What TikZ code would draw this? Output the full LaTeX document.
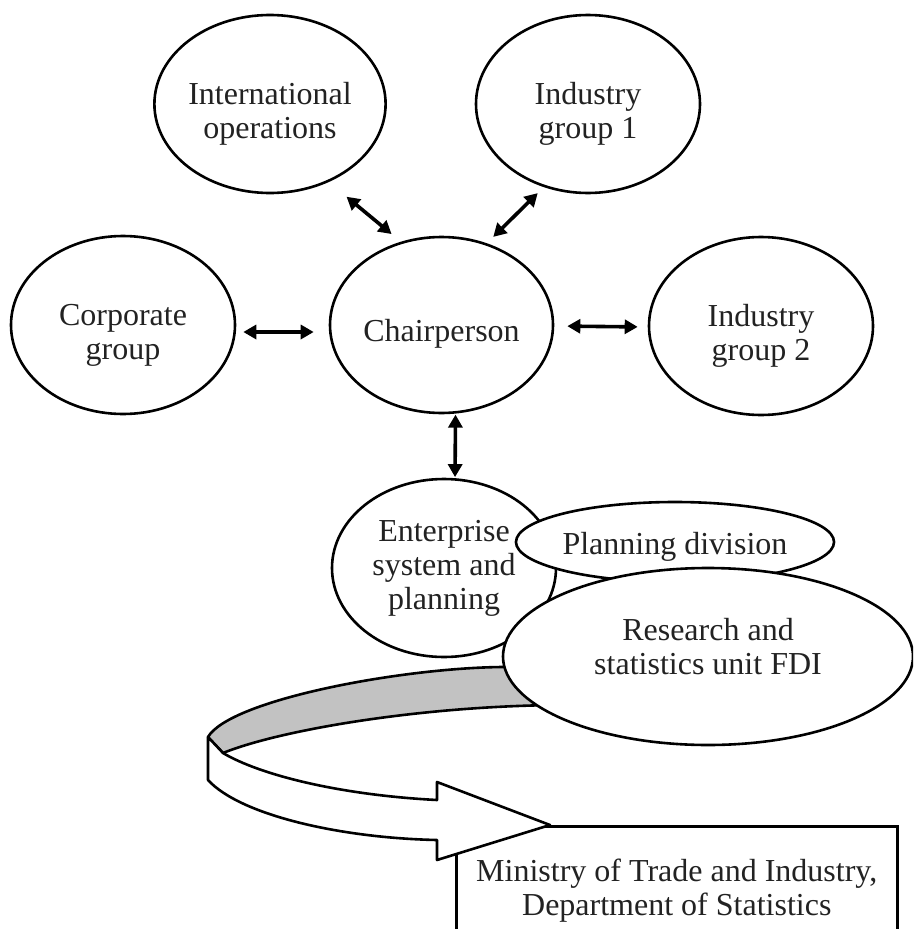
\documentclass[tikz,border=0pt]{standalone}
\usepackage{fontspec}
\setmainfont{Liberation Serif}
\usetikzlibrary{shapes.geometric,arrows.meta}
\definecolor{ink}{HTML}{222222}
\definecolor{ribbongray}{HTML}{C2C2C2}
% two centred lines, set a little low inside their oval
\newcommand{\ovallines}[2]{\begin{tabular}{@{}c@{}}\rule{0pt}{46pt}#1\\#2\end{tabular}}
\begin{document}
\begin{tikzpicture}[x=1pt,y=-1pt,
  every node/.style={font=\fontsize{32pt}{34pt}\selectfont, text=ink},
  oval/.style={ellipse, draw=black, line width=2.6pt, fill=white,
    minimum width=224pt, minimum height=178pt, inner sep=0pt, align=center},
  lift/.style={execute at begin node={\rule{0pt}{#1}}},
  drop/.style={execute at end node={\rule[-20pt]{0pt}{0pt}}},
  link/.style={{Triangle[length=13pt,width=14pt]}-{Triangle[length=13pt,width=14pt]},
    line width=3.6pt},
  outline/.style={draw=black, line width=2.6pt, line join=round},
]
\useasboundingbox (0,0) rectangle (913,929);
\clip (0,0) rectangle (913,929);

% top row and middle row
\node[oval] (intl) at (270,104) {\ovallines{International}{operations}};
\node[oval] (ind1) at (588,104) {\ovallines{Industry}{group 1}};
\node[oval] (corp) at (123,325) {\ovallines{Corporate}{group}};
\node[oval, lift=39pt, minimum width=223pt, minimum height=176pt] (chair) at (441.5,325) {Chairperson};
\node[oval] (ind2) at (761,326) {\ovallines{Industry}{group 2}};

% ministry box (runs off the lower edge)
\node[draw=black, line width=2.6pt, fill=white, anchor=north west,
  minimum width=441pt, inner ysep=32.5pt, align=center] (mti) at (455,825)
  {Ministry of Trade and Industry,\\Department of Statistics};

% twisted ribbon arrow: grey back face, then white front face with head
\path[outline, fill=ribbongray]
  (560,667) -- (502,667) .. controls (400,668) and (230,700) .. (208,737)
  -- (223,753) .. controls (280,730) and (420,706) .. (560,705) -- cycle;
\path[outline, fill=white]
  (208,737) -- (208,780) .. controls (240,815) and (340,838) .. (437,840)
  -- (437,860) -- (550,825) -- (437,782) -- (437,800)
  .. controls (340,795) and (260,775) .. (223,753) -- cycle;

% lower cluster
\node[oval] (ent) at (444,568) {Enterprise\\system and\\planning};
\node[oval, lift=32pt, minimum width=295pt, minimum height=80pt] (plan) at (675,542) {Planning division};
\node[oval, drop, minimum width=410pt, minimum height=177pt] (rsu) at (708,656.5)
  {Research and\\statistics unit FDI};

% connectors to the chairperson
\draw[link, shorten <=7pt, shorten >=15pt] ([yshift=-7pt]corp.east) -- ([yshift=-7pt]chair.west);
\draw[link, shorten <=13pt, shorten >=10pt] ([yshift=-1pt]chair.east) -- ([yshift=-1pt]ind2.west);
\draw[link, shorten <=23pt, shorten >=12pt] (intl.-53) -- (chair.116);
\draw[link, shorten <=8.5pt, shorten >=9pt] (ind1.-118) -- (chair.61);
\draw[link, shorten <=1pt, shorten >=1pt] (chair.-81) -- (ent.83);
\end{tikzpicture}
\end{document}
